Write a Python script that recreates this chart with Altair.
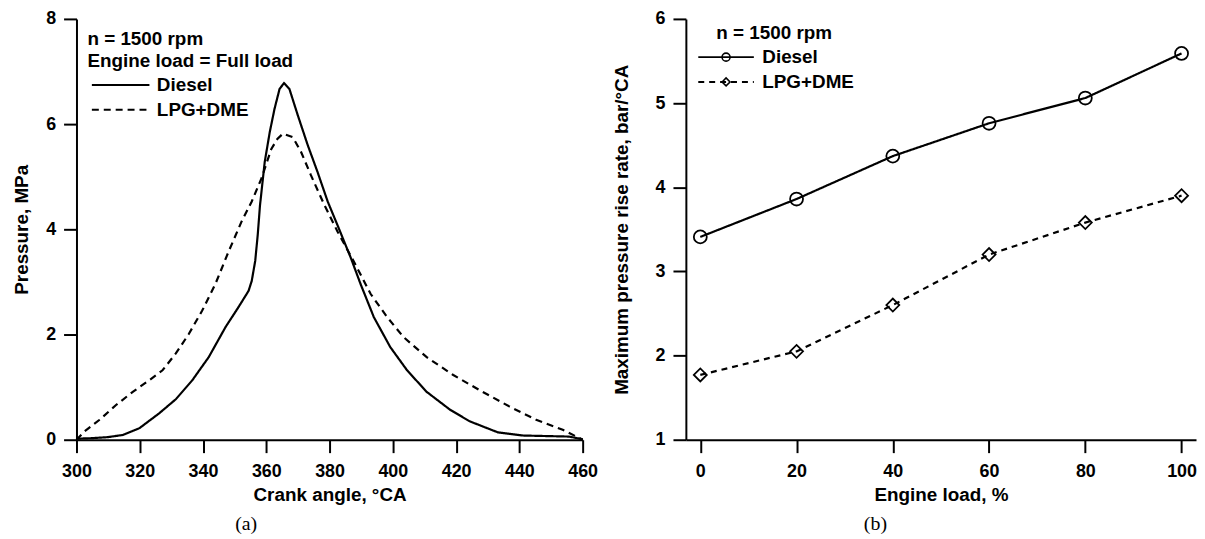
import altair as alt
import pandas as pd

# ---- panel (a): in-cylinder pressure vs crank angle ----
crank_diesel = [300, 305, 310, 314.6, 319.9, 326.1, 331.4, 336.6, 341.8, 347.1, 351.2, 354.4,
                355.4, 356.5, 357.3, 358, 359.5, 361.1, 362.6, 364.2, 365.6, 367.3, 370, 373.1,
                376.2, 379.4, 382.5, 386.7, 389.8, 394, 399.2, 404.5, 410.7, 418.1, 424.3, 433.2,
                441.1, 455.7, 460]
p_diesel = [0.02, 0.03, 0.05, 0.09, 0.22, 0.5, 0.77, 1.13, 1.57, 2.14, 2.52, 2.83,
            3.02, 3.4, 3.9, 4.45, 5.28, 5.85, 6.29, 6.67, 6.78, 6.67, 6.16, 5.6,
            5.09, 4.53, 4.08, 3.46, 2.96, 2.33, 1.76, 1.32, 0.91, 0.57, 0.35, 0.14,
            0.08, 0.06, 0.01]
crank_lpg = [300, 302.6, 307.3, 312.5, 317.8, 323, 327.2, 331.4, 335.5, 339.7, 343.9, 348.1,
             352.2, 355.4, 358.5, 361.6, 363.5, 365.3, 368.4, 371, 374.1, 378.3, 382.5, 388,
             393, 398.2, 403.4, 410.7, 419.1, 427.5, 436.9, 445.3, 453.7, 460]
p_lpg = [0.0, 0.16, 0.38, 0.66, 0.91, 1.13, 1.32, 1.64, 2.01, 2.45, 2.96, 3.58,
         4.15, 4.53, 4.97, 5.53, 5.72, 5.82, 5.75, 5.47, 5.03, 4.47, 3.96, 3.35,
         2.77, 2.33, 1.95, 1.57, 1.23, 0.94, 0.63, 0.38, 0.19, 0.0]

# ---- panel (b): maximum pressure rise rate vs engine load ----
engine_load = [0, 20, 40, 60, 80, 100]
rate_diesel = [3.41, 3.86, 4.37, 4.76, 5.06, 5.59]
rate_lpg = [1.77, 2.05, 2.60, 3.20, 3.58, 3.90]

fuels = ["Diesel", "LPG+DME"]
x_ticks_a = [300, 320, 340, 360, 380, 400, 420, 440, 460]
y_ticks_a = [0, 2, 4, 6, 8]
x_ticks_b = [0, 20, 40, 60, 80, 100]
y_ticks_b = [1, 2, 3, 4, 5, 6]

df_a = pd.DataFrame({
    "angle": crank_diesel + crank_lpg,
    "p": p_diesel + p_lpg,
    "fuel": [fuels[0]] * len(crank_diesel) + [fuels[1]] * len(crank_lpg),
})
df_b = pd.DataFrame({
    "load": engine_load * 2,
    "rate": rate_diesel + rate_lpg,
    "fuel": [fuels[0]] * len(engine_load) + [fuels[1]] * len(engine_load),
})
df_b["fuel_m"] = df_b["fuel"]

SANS = "Liberation Sans"
SERIF = "Liberation Serif"

# long horizontal legend line drawn as a custom symbol path (scaled by sqrt(size)/2 = 4)
LINE_A = "M-1.25,0L13.25,0"   # ~58 px
LINE_B = "M-1.25,0L12.75,0"   # ~56 px

left = alt.Chart(df_a).mark_line(strokeWidth=2.2).encode(
    x=alt.X("angle:Q", scale=alt.Scale(domain=[300, 460], nice=False, zero=False),
            axis=alt.Axis(values=x_ticks_a, title="Crank angle, °CA")),
    y=alt.Y("p:Q", scale=alt.Scale(domain=[0, 8], nice=False),
            axis=alt.Axis(values=y_ticks_a, title="Pressure, MPa", titlePadding=14)),
    color=alt.value("black"),
    strokeDash=alt.StrokeDash(
        "fuel:N",
        scale=alt.Scale(domain=fuels, range=[[1, 0], [7, 5]]),
        legend=alt.Legend(title=["n = 1500 rpm", "Engine load = Full load"],
                          orient="top-left", offset=11, titleLimit=400,
                          symbolType=LINE_A, symbolSize=64, symbolStrokeWidth=2,
                          symbolStrokeColor="black",
                          labelOffset=51, titleAnchor="start", titleLineHeight=22),
    ),
).properties(
    width=510, height=424,
    title=alt.TitleParams("(a)", orient="bottom", anchor="middle", dx=-84,
                          font=SERIF, fontSize=20, fontWeight="normal",
                          color="black", offset=10),
)

xb = alt.X("load:Q", scale=alt.Scale(domain=[-3, 103], nice=False, zero=False),
           axis=alt.Axis(values=x_ticks_b, title="Engine load, %"))
yb = alt.Y("rate:Q", scale=alt.Scale(domain=[1, 6], nice=False, zero=False),
           axis=alt.Axis(values=y_ticks_b, title="Maximum pressure rise rate, bar/°CA",
                         titlePadding=24))

line_b = alt.Chart(df_b).mark_line(strokeWidth=2.2).encode(
    x=xb, y=yb,
    color=alt.value("black"),
    strokeDash=alt.StrokeDash(
        "fuel:N",
        scale=alt.Scale(domain=fuels, range=[[1, 0], [6, 5]]),
        legend=alt.Legend(title="n = 1500 rpm", orient="none", legendX=8, legendY=5,
                          symbolType=LINE_B, symbolSize=64, symbolStrokeWidth=2,
                          symbolStrokeColor="black",
                          labelOffset=50, titleAnchor="middle"),
    ),
)
# marker-only legend laid over the line legend (blank title/labels keep the same rows)
pts_b = alt.Chart(df_b).mark_point(filled=False, strokeWidth=1.8,
                                   opacity=1, size=170).encode(
    x=xb, y=yb,
    color=alt.value("black"),
    shape=alt.Shape(
        "fuel_m:N",
        scale=alt.Scale(range=["circle", "diamond"]),
        legend=alt.Legend(title=" ", labelExpr="' '",
                          orient="none", legendX=31, legendY=5,
                          symbolSize=64, symbolStrokeWidth=1.6,
                          symbolStrokeColor="black", symbolFillColor="transparent",
                          labelOffset=50),
    ),
)
right = alt.layer(line_b, pts_b).properties(
    width=514, height=424,
    title=alt.TitleParams("(b)", orient="bottom", anchor="middle", dx=-66,
                          font=SERIF, fontSize=20, fontWeight="normal",
                          color="black", offset=10),
)

chart = alt.hconcat(left, right, spacing=104, bounds="flush").resolve_scale(
    strokeDash="independent", shape="independent"
).resolve_legend(
    strokeDash="independent", shape="independent"
).properties(
    padding={"left": 4, "top": 0, "right": 0, "bottom": 0}
).configure_view(stroke=None).configure_axis(
    grid=False, domainColor="black", domainWidth=2, tickColor="black", tickWidth=2,
    tickSize=13, labelFont=SANS, labelFontSize=18, labelFontWeight="bold",
    labelColor="black", titleFont=SANS, titleFontSize=19, titleFontWeight="bold",
    titleColor="black", labelPadding=8, labelFlush=False, labelOverlap=False,
).configure_axisX(labelPadding=10, titlePadding=5).configure_legend(
    labelFont=SANS, labelFontSize=19, labelFontWeight="bold", labelColor="black",
    titleFont=SANS, titleFontSize=19, titleFontWeight="bold", titleColor="black",
    rowPadding=5, titlePadding=5,
)

chart.save("out.html", embed_options={"renderer": "svg", "actions": False})
